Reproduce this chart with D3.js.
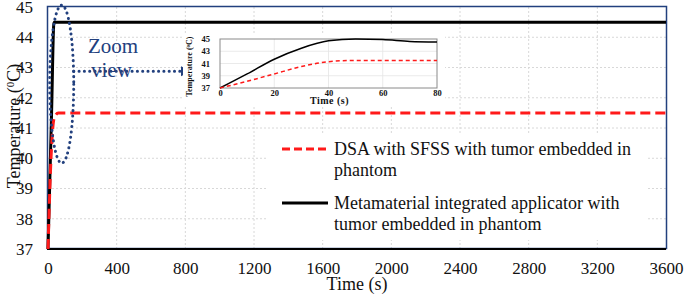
<!DOCTYPE html>
<html>
<head>
<meta charset="utf-8">
<script src="https://cdn.jsdelivr.net/npm/d3@7"></script>
<style>
  html, body { margin: 0; padding: 0; background: #fff; }
  svg { display: block; }
  svg text { font-family: "Liberation Serif", "Times New Roman", "DejaVu Serif", serif; }
</style>
</head>
<body>
<script>
const serif = "Liberation Serif, Times New Roman, DejaVu Serif, serif"

// main plot: time (s) and temperature (deg C)
const mainTimes = [0, 20, 35, 60, 3600]
const mainMeta = [37, 41.3, 44.5, 44.5, 44.5]
const mainDsa = [37, 40.3, 41.3, 41.5, 41.5]

// inset: first 80 s
const zoomTimes = [0, 10, 20, 30, 40, 50, 60, 70, 80]
const zoomMeta = [37, 39.3, 41.7, 43.5, 44.7, 45.0, 44.9, 44.6, 44.5]
const zoomDsa = [37, 38.1, 39.3, 40.5, 41.3, 41.5, 41.5, 41.5, 41.5]

const xTicks = [0, 400, 800, 1200, 1600, 2000, 2400, 2800, 3200, 3600]
const yTicks = [37, 38, 39, 40, 41, 42, 43, 44, 45]
const insetXTicks = [0, 20, 40, 60, 80]
const insetYTicks = [37, 39, 41, 43, 45]

const legendLabels = [
  ["DSA with SFSS with tumor embedded in", "phantom"],
  ["Metamaterial integrated applicator with", "tumor embedded in phantom"]
]

const width = 685, height = 295
const navy = "#22407e"

const svg = d3.select("body").append("svg")
  .attr("width", width)
  .attr("height", height)
  .attr("font-family", serif)

const x = d3.scaleLinear().domain([0, 3600]).range([48, 666])
const y = d3.scaleLinear().domain([37, 45]).range([249, 7])

const pair = (ts, vs) => ts.map((t, i) => ({ t: t, v: vs[i] }))

// grid
const grid = svg.append("g").attr("stroke", "#d8d8d8").attr("stroke-dasharray", "2,2")
grid.selectAll(".gx").data(xTicks.slice(1, -1)).enter().append("line")
  .attr("x1", d => x(d)).attr("x2", d => x(d)).attr("y1", y(45)).attr("y2", y(37))
grid.selectAll(".gy").data(yTicks.slice(1, -1)).enter().append("line")
  .attr("y1", d => y(d)).attr("y2", d => y(d)).attr("x1", x(0)).attr("x2", x(3600))

// axes
const xAxis = svg.append("g")
  .attr("transform", `translate(0,${y(37)})`)
  .call(d3.axisBottom(x).tickValues(xTicks).tickSize(0).tickPadding(13).tickFormat(d3.format("d")))
xAxis.attr("font-family", serif).attr("font-size", 17)
xAxis.select(".domain").remove()
xAxis.selectAll("text").attr("fill", "#111")

const yAxis = svg.append("g")
  .attr("transform", `translate(${x(0)},0)`)
  .call(d3.axisLeft(y).tickValues(yTicks).tickSize(0).tickPadding(15))
yAxis.attr("font-family", serif).attr("font-size", 17)
yAxis.select(".domain").remove()
yAxis.selectAll("text").attr("fill", "#111")

// frame
svg.append("rect")
  .attr("x", x(0) - 0.5).attr("y", y(45) - 0.5)
  .attr("width", x(3600) - x(0) + 1).attr("height", y(37) - y(45))
  .attr("fill", "none").attr("stroke", navy).attr("stroke-width", 1.5)
svg.append("line")
  .attr("x1", x(0) - 1).attr("x2", x(3600)).attr("y1", y(37)).attr("y2", y(37))
  .attr("stroke", "#000").attr("stroke-width", 2.2)

// axis labels
svg.append("text")
  .attr("transform", `translate(20,${(y(37) + y(45)) / 2 - 2}) rotate(-90)`)
  .attr("text-anchor", "middle")
  .attr("font-size", 18).attr("fill", "#111")
  .html('Temperature (<tspan baseline-shift="super" font-size="11">0</tspan>C)')

svg.append("text")
  .attr("x", (x(0) + x(3600)) / 2).attr("y", 290)
  .attr("text-anchor", "middle")
  .attr("font-size", 18).attr("fill", "#111")
  .text("Time (s)")

// lines
const line = d3.line().x(d => x(d.t)).y(d => y(d.v)).curve(d3.curveMonotoneX)

svg.append("path").datum(pair(mainTimes, mainMeta))
  .attr("d", line).attr("fill", "none")
  .attr("stroke", "#000").attr("stroke-width", 3)

svg.append("path").datum(pair(mainTimes, mainDsa))
  .attr("d", line).attr("fill", "none")
  .attr("stroke", "#ff1a1a").attr("stroke-width", 3).attr("stroke-dasharray", "10,5")

// zoom ellipse, arrow and label
svg.append("ellipse")
  .attr("cx", x(80)).attr("cy", y(42.45))
  .attr("rx", 12).attr("ry", 79)
  .attr("fill", "none").attr("stroke", navy)
  .attr("stroke-width", 3).attr("stroke-linecap", "round").attr("stroke-dasharray", "0.1,5.2")

const arrowY = y(42.88)
svg.append("line")
  .attr("x1", x(150)).attr("x2", 180).attr("y1", arrowY).attr("y2", arrowY)
  .attr("stroke", navy).attr("stroke-width", 3)
  .attr("stroke-linecap", "round").attr("stroke-dasharray", "0.1,5.2")
svg.append("path")
  .attr("d", `M181,${arrowY - 5}L191,${arrowY}L181,${arrowY + 5}Z`)
  .attr("fill", navy)

svg.append("text").attr("x", 88).attr("y", 53)
  .attr("font-size", 21).attr("fill", navy).text("Zoom")
svg.append("text").attr("x", 91).attr("y", 77)
  .attr("font-size", 21).attr("fill", navy).text("view")

// inset
svg.append("rect")
  .attr("x", 183).attr("y", 33).attr("width", 262).attr("height", 74)
  .attr("fill", "#fff")

const ix = d3.scaleLinear().domain([0, 80]).range([220, 437])
const iy = d3.scaleLinear().domain([37, 45]).range([88, 39])
const inset = svg.append("g")

const igrid = inset.append("g").attr("stroke", "#e4e4e4").attr("stroke-width", 0.8)
igrid.selectAll(".ix").data(insetXTicks.slice(1, -1)).enter().append("line")
  .attr("x1", d => ix(d)).attr("x2", d => ix(d)).attr("y1", iy(45)).attr("y2", iy(37))
igrid.selectAll(".iy").data(insetYTicks.slice(1, -1)).enter().append("line")
  .attr("y1", d => iy(d)).attr("y2", d => iy(d)).attr("x1", ix(0)).attr("x2", ix(80))

inset.append("rect")
  .attr("x", ix(0)).attr("y", iy(45))
  .attr("width", ix(80) - ix(0)).attr("height", iy(37) - iy(45))
  .attr("fill", "none").attr("stroke", "#8a8a8a").attr("stroke-width", 1)

const ixAxis = inset.append("g")
  .attr("transform", `translate(0,${iy(37)})`)
  .call(d3.axisBottom(ix).tickValues(insetXTicks).tickSize(0).tickPadding(2))
ixAxis.attr("font-family", serif).attr("font-size", 8.5).attr("font-weight", "bold")
ixAxis.select(".domain").remove()
ixAxis.selectAll("text").attr("fill", "#111")

const iyAxis = inset.append("g")
  .attr("transform", `translate(${ix(0)},0)`)
  .call(d3.axisLeft(iy).tickValues(insetYTicks).tickSize(0).tickPadding(10))
iyAxis.attr("font-family", serif).attr("font-size", 8.5).attr("font-weight", "bold")
iyAxis.select(".domain").remove()
iyAxis.selectAll("text").attr("fill", "#111")

inset.append("text")
  .attr("transform", `translate(192,${(iy(37) + iy(45)) / 2 + 3}) rotate(-90)`)
  .attr("text-anchor", "middle")
  .attr("font-size", 8).attr("font-weight", "bold").attr("fill", "#111")
  .html('Temperature (<tspan baseline-shift="super" font-size="5">0</tspan>C)')

inset.append("text")
  .attr("x", (ix(0) + ix(80)) / 2 + 1).attr("y", 104)
  .attr("text-anchor", "middle")
  .attr("font-size", 10).attr("font-weight", "bold").attr("fill", "#111")
  .attr("letter-spacing", "0.5px")
  .text("Time (s)")

const iline = d3.line().x(d => ix(d.t)).y(d => iy(d.v)).curve(d3.curveMonotoneX)
inset.append("path").datum(pair(zoomTimes, zoomMeta))
  .attr("d", iline).attr("fill", "none")
  .attr("stroke", "#000").attr("stroke-width", 1.5)
inset.append("path").datum(pair(zoomTimes, zoomDsa))
  .attr("d", iline).attr("fill", "none")
  .attr("stroke", "#ff1a1a").attr("stroke-width", 1.5).attr("stroke-dasharray", "4,3")

// legend
svg.append("rect")
  .attr("x", 266).attr("y", 133).attr("width", 380).attr("height", 107)
  .attr("fill", "#fff")

const legendStyles = [
  { color: "#ff1a1a", dash: "8,4", y: 149 },
  { color: "#000", dash: null, y: 203 }
]
const leg = svg.append("g").selectAll("g").data(legendLabels).enter().append("g")
leg.append("line")
  .attr("x1", 282).attr("x2", 328)
  .attr("y1", (d, i) => legendStyles[i].y).attr("y2", (d, i) => legendStyles[i].y)
  .attr("stroke", (d, i) => legendStyles[i].color).attr("stroke-width", 3)
  .attr("stroke-dasharray", (d, i) => legendStyles[i].dash)
leg.append("text")
  .attr("x", 334).attr("y", (d, i) => legendStyles[i].y + 6)
  .attr("font-size", 18).attr("fill", "#111")
  .selectAll("tspan").data(d => d).enter().append("tspan")
  .attr("x", 334).attr("dy", (d, j) => j === 0 ? 0 : 21)
  .text(d => d)
</script>
</body>
</html>
